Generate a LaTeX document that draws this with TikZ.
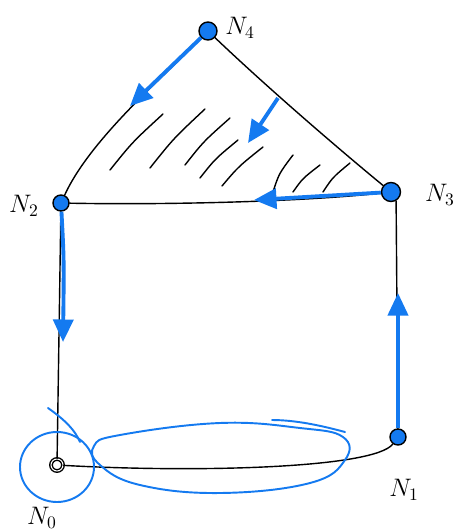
\documentclass[tikz,border=0pt]{standalone}
\usepackage{amsmath}
\usepackage{xcolor}
\usetikzlibrary{
    positioning,
    arrows.meta,
    calc,
}
\definecolor{penblue}{RGB}{20,122,240}
\tikzset{
    % vertex styles
    vertex/.style={circle, draw=black, thick, fill=penblue, inner sep=0pt, minimum size=4mm},
    origin vertex/.style={circle, draw=black, thick, double, fill=white, inner sep=0pt, minimum size=2.4mm},
    % edge styles
    edge/.style={black, thick, line cap=round},
    hatch/.style={black, thick, line cap=round},
    % pen styles
    flow/.style={penblue, line width=2.2pt, -{Triangle[length=4.5mm, width=4mm]}},
    loop/.style={penblue, line width=1.1pt, line cap=round},
    vlabel/.style={font=\Large},
}

\begin{document}
\begin{tikzpicture}[x=0.02cm, y=-0.02cm]
    \useasboundingbox (0,0) rectangle (463,532);

    % vertices
    \node[vertex, minimum size=3.6mm] (n4) at (208,31) {};
    \node[vertex, minimum size=3.2mm] (n2) at (61,203) {};
    \node[vertex, minimum size=3.8mm] (n3) at (391,192) {};
    \node[vertex, minimum size=3.2mm] (n1) at (398,437) {};
    \node[origin vertex] (n0) at (57,465) {};

    % labels
    \node[vlabel] (l4) at (240,28) {$N_4$};
    \node[vlabel] (l2) at (24,206) {$N_2$};
    \node[vlabel] (l3) at (440,195) {$N_3$};
    \node[vlabel] (l1) at (404,490) {$N_1$};
    \node[vlabel] (l0) at (42,518) {$N_0$};

    % edges
    \draw[edge] (n4) .. controls (160,80) and (90,140) .. (n2);
    \draw[edge] (n4) .. controls (270,90) and (340,150) .. (n3);
    \draw[edge] (n2) .. controls (160,205) and (300,202) .. (n3);
    \draw[edge] (n2) -- (n0);
    \draw[edge] (n3.-60) -- (n1);
    \draw[edge] (n0) .. controls (200,473) and (375,468) .. (n1);

    % hatching of the face
    \foreach \a/\b/\c/\d in {110/170/163/114, 150/168/205/109, 185/165/230/118,
                             200/178/238/140, 222/186/263/147, 273/192/293/155,
                             293/192/320/165, 323/192/350/163} {
        \draw[hatch] (\a,\b) .. controls ($(\a,\b)!0.5!(\c,\d)+(-4,0)$) .. (\c,\d);
    }

    % flow arrows
    \coordinate (t42) at (130,106);
    \coordinate (f43) at (278,98);
    \coordinate (t43) at (248,143);
    \coordinate (t32) at (254,200);
    \coordinate (t20) at (63,342);
    \coordinate (t13) at (398,293);
    \draw[flow] (n4) -- (t42);
    \draw[flow] (f43) -- (t43);
    \draw[flow] (n3) -- (t32);
    \draw[flow] (n2) .. controls (64,260) .. (t20);
    \draw[flow] (n1) -- (t13);

    % loops
    \draw[loop] (57,467) ellipse [x radius=37, y radius=35];
    \draw[loop] (48,408) .. controls (65,420) and (75,430) .. (80,442);
    \draw[loop] (345,432) .. controls (330,428) and (300,420) .. (272,420);
    \draw[loop] plot[smooth cycle, tension=0.7] coordinates {
        (94,446) (120,435) (220,423) (300,428) (343,437)
        (345,460) (310,483) (220,493) (140,485) (100,465)};
\end{tikzpicture}
\end{document}
